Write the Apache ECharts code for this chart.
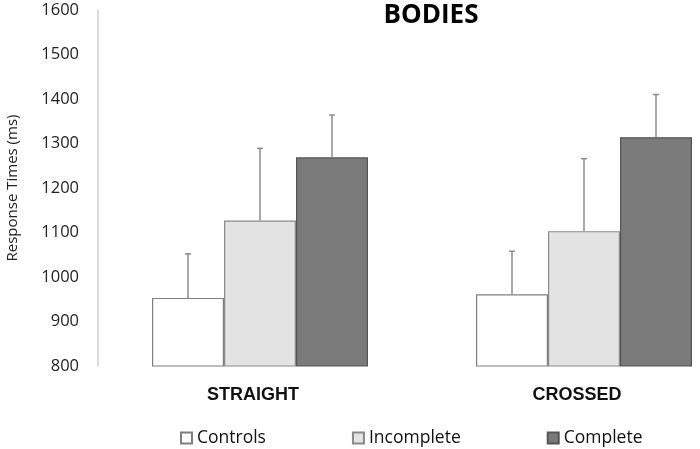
<!DOCTYPE html>
<html>
<head>
<meta charset="utf-8">
<script src="https://cdn.jsdelivr.net/npm/echarts@6/dist/echarts.min.js"></script>
<style>html,body{margin:0;padding:0;background:#fff}#c{width:700px;height:449px}</style>
</head>
<body>
<div id="c"></div>
<script>
var categories = ['STRAIGHT', 'CROSSED'];
var seriesNames = ['Controls', 'Incomplete', 'Complete'];
var controls = [953, 961];
var incomplete = [1127, 1103];
var complete = [1269, 1314];
var controlsErr = [1052, 1058];
var incompleteErr = [1289, 1266];
var completeErr = [1364, 1410];
var yTicks = [800, 900, 1000, 1100, 1200, 1300, 1400, 1500, 1600];

var font = '"Open Sans", sans-serif';
var fills = ['#ffffff', '#e3e3e3', '#7a7a7a'];
var borders = ['#7f7f7f', '#8a8a8a', '#555555'];
var BAR_W = 72;

var chart = echarts.init(document.getElementById('c'));

function errSeries(idx, tops, means) {
  return {
    type: 'custom',
    name: seriesNames[idx] + ' err',
    silent: true,
    z: 5,
    data: tops.map(function (t, i) { return [i, means[i], t]; }),
    renderItem: function (params, api) {
      var off = (idx - 1) * BAR_W;
      var p0 = api.coord([api.value(0), api.value(1)]);
      var p1 = api.coord([api.value(0), api.value(2)]);
      var x = p0[0] + off;
      var style = { stroke: '#8c8c8c', lineWidth: 1.5 };
      return {
        type: 'group',
        children: [
          { type: 'line', shape: { x1: x, y1: p0[1], x2: x, y2: p1[1] }, style: style },
          { type: 'line', shape: { x1: x - 3, y1: p1[1], x2: x + 3, y2: p1[1] }, style: style }
        ]
      };
    }
  };
}

var barData = [controls, incomplete, complete];
var series = barData.map(function (d, i) {
  return {
    type: 'bar',
    name: seriesNames[i],
    data: d,
    barWidth: BAR_W,
    barGap: '0%',
    itemStyle: { color: fills[i], borderColor: borders[i], borderWidth: 1.2 }
  };
});
series.push(errSeries(0, controlsErr, controls));
series.push(errSeries(1, incompleteErr, incomplete));
series.push(errSeries(2, completeErr, complete));

chart.setOption({
  animation: false,
  backgroundColor: '#ffffff',
  title: {
    text: 'BODIES',
    left: 426,
    top: -2,
    textAlign: 'center',
    textStyle: { fontFamily: font, fontSize: 26, fontWeight: 'bold', color: '#000' }
  },
  legend: {
    data: seriesNames,
    left: 175,
    top: 424,
    itemWidth: 11,
    itemHeight: 11,
    itemGap: 86,
    icon: 'rect',
    textStyle: { fontFamily: font, fontSize: 17.5, color: '#111' }
  },
  grid: { left: 98, top: 10, height: 356, width: 648, outerBoundsMode: 'none', containLabel: false },
  xAxis: {
    type: 'category',
    data: categories,
    axisLine: { show: false },
    axisTick: { show: false },
    axisLabel: { fontFamily: '"Liberation Sans", Arial, sans-serif', fontSize: 18, fontWeight: 'bold', color: '#111', margin: 20, padding: [0, 14, 0, 0] }
  },
  yAxis: {
    type: 'value',
    min: yTicks[0],
    max: yTicks[yTicks.length - 1],
    interval: 100,
    name: 'Response Times (ms)',
    nameLocation: 'middle',
    nameGap: 78,
    nameTextStyle: { fontFamily: font, fontSize: 15, color: '#222' },
    axisLine: { show: true, lineStyle: { color: '#cfcfcf', width: 1.5 } },
    axisTick: { show: false },
    splitLine: { show: false },
    axisLabel: { fontFamily: font, fontSize: 16.5, color: '#222', margin: 19, formatter: function (v) { return String(v); } }
  },
  series: series
});
</script>
</body>
</html>
